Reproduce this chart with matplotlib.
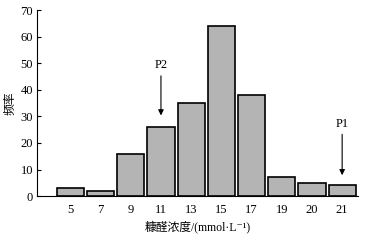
import matplotlib.pyplot as plt

categories = ["5", "7", "9", "11", "13", "15", "17", "19", "20", "21"]
freq = [3, 2, 16, 26, 35, 64, 38, 7, 5, 4]
yticks = [0, 10, 20, 30, 40, 50, 60, 70]

plt.rcParams["font.family"] = ["Liberation Serif", "Noto Sans CJK SC", "DejaVu Serif"]

fig = plt.figure(figsize=(3.79, 2.4), dpi=100)
ax = fig.add_axes([0.098, 0.183, 0.847, 0.775])

x = list(range(len(categories)))
ax.bar(x, freq, width=0.9, color="#b4b4b4", edgecolor="black", linewidth=1.2)

ax.set_xlim(-1.1, len(categories) - 0.47)
ax.set_ylim(0, 70)
ax.set_yticks(yticks)
ax.set_xticks(x)
ax.set_xticklabels(categories)
ax.tick_params(axis="y", direction="in", length=3, labelsize=9, pad=3)
ax.tick_params(axis="x", length=0, labelsize=9, pad=6)
ax.spines["top"].set_visible(False)
ax.spines["right"].set_visible(False)

# arrows marking P2 and P1
ax.annotate("", xy=(3, 29.3), xytext=(3, 46.3),
            arrowprops=dict(arrowstyle="-|>", color="black", lw=0.8, mutation_scale=8))
ax.text(3, 49.3, "P2", ha="center", va="center", fontsize=9)
ax.annotate("", xy=(9, 6.8), xytext=(9, 24.3),
            arrowprops=dict(arrowstyle="-|>", color="black", lw=0.8, mutation_scale=8))
ax.text(9, 27.2, "P1", ha="center", va="center", fontsize=9)

ax.set_ylabel("频率", fontsize=8.5, labelpad=3)
ax.set_xlabel("糠醛浓度/(mmol·L\u207b\u00b9)", fontsize=8.5, labelpad=3)

fig.savefig("out.png", dpi=100)
